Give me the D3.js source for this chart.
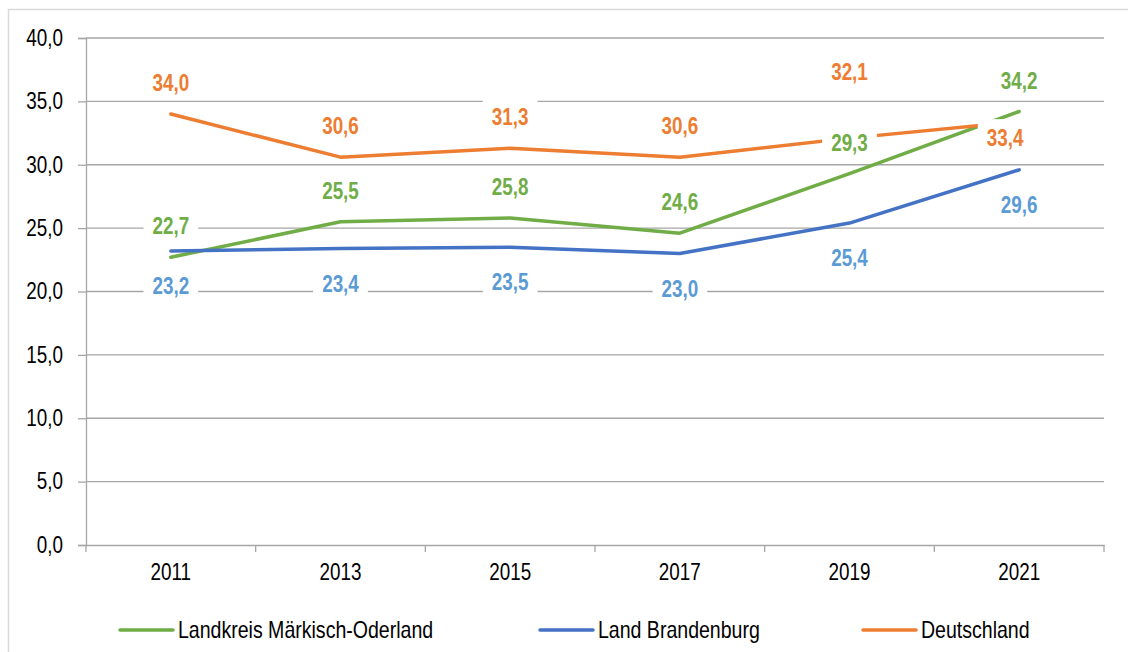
<!DOCTYPE html>
<html>
<head>
<meta charset="utf-8">
<script src="https://cdn.jsdelivr.net/npm/d3@7/dist/d3.min.js"></script>
<style>
  html, body { margin: 0; padding: 0; background: #fff; }
  svg text { font-family: "Liberation Sans", Arial, sans-serif; }
</style>
</head>
<body>
<svg id="chart" width="1128" height="652"></svg>
<script>
// ---- data ----
const years = ["2011", "2013", "2015", "2017", "2019", "2021"];
const seriesNames = ["Landkreis Märkisch-Oderland", "Land Brandenburg", "Deutschland"];
const landkreis = [22.7, 25.5, 25.8, 24.6, 29.3, 34.2];
const brandenburg = [23.2, 23.4, 23.5, 23.0, 25.4, 29.6];
const deutschland = [34.0, 30.6, 31.3, 30.6, 32.1, 33.4];
const yTicks = [0, 5, 10, 15, 20, 25, 30, 35, 40];

// ---- styles ----
const lineColors = ["#70AD47", "#4472C4", "#ED7D31"];
const labelColors = ["#70AD47", "#5B9BD5", "#ED7D31"];
const labelDefaultDy = [-31, 35, -31];      // above / below per series
const labelOverrides = { "2-4": { dx: 0, dy: -66 }, "2-5": { dx: -14, dy: 16 } };
const NARROW = 0.82;

// horizontally condense a text element around its anchor x (emulates Arial Narrow)
function condense(sel, f) {
  sel.each(function () {
    const xv = +(this.getAttribute("x") || 0);
    d3.select(this).attr("transform", `translate(${xv * (1 - f)},0) scale(${f},1)`);
  });
}

const series = [landkreis, brandenburg, deutschland].map((vals, i) => ({
  name: seriesNames[i], idx: i, values: vals.map((v, j) => ({ year: years[j], v, j }))
}));

const svg = d3.select("#chart");
const m = { left: 86, right: 1104, top: 38, bottom: 545 };

const loc = d3.formatLocale({ decimal: ",", thousands: ".", grouping: [3], currency: ["", "€"] });
const fmt = loc.format(".1f");

// outer border
svg.append("rect").attr("x", 8.5).attr("y", 9.5).attr("width", 1130).attr("height", 660)
  .attr("fill", "#fff").attr("stroke", "#d9d9d9").attr("stroke-width", 1.5);

const x = d3.scaleBand().domain(years).range([m.left, m.right]).paddingInner(0).paddingOuter(0);
const y = d3.scaleLinear().domain([0, 40]).range([m.bottom, m.top]);

// gridlines
svg.append("g").selectAll("line").data(yTicks.filter(t => t > 0)).join("line")
  .attr("x1", m.left).attr("x2", m.right)
  .attr("y1", d => y(d)).attr("y2", d => y(d))
  .attr("stroke", "#a6a6a6").attr("stroke-width", 1.3);

// y axis
const yAxis = svg.append("g").attr("transform", `translate(${m.left},0)`)
  .call(d3.axisLeft(y).tickValues(yTicks).tickFormat(fmt).tickSize(8).tickPadding(15));
yAxis.select(".domain").attr("stroke", "#a6a6a6").attr("stroke-width", 1.3);
yAxis.selectAll(".tick line").attr("stroke", "#a6a6a6").attr("stroke-width", 1.3);
yAxis.selectAll(".tick text").attr("font-size", 23).attr("fill", "#000")
  .style("font-family", '"Liberation Sans", Arial, sans-serif').call(condense, NARROW);

// x axis
const xAxis = svg.append("g").attr("transform", `translate(0,${m.bottom})`)
  .call(d3.axisBottom(x).tickSize(0).tickPadding(19));
xAxis.select(".domain").attr("stroke", "#a6a6a6").attr("stroke-width", 1.3);
xAxis.selectAll(".tick text").attr("font-size", 23).attr("fill", "#000")
  .style("font-family", '"Liberation Sans", Arial, sans-serif').call(condense, NARROW);
// boundary ticks
const bounds = years.map(yr => x(yr)).concat([x(years[years.length - 1]) + x.bandwidth()]);
svg.append("g").selectAll("line").data(bounds).join("line")
  .attr("x1", d => d).attr("x2", d => d).attr("y1", m.bottom).attr("y2", m.bottom + 7)
  .attr("stroke", "#a6a6a6").attr("stroke-width", 1.3);

const cx = yr => x(yr) + x.bandwidth() / 2;

// lines
const line = d3.line().x(d => cx(d.year)).y(d => y(d.v));
svg.append("g").selectAll("path").data(series).join("path")
  .attr("d", s => line(s.values))
  .attr("fill", "none").attr("stroke", s => lineColors[s.idx])
  .attr("stroke-width", 3.5).attr("stroke-linecap", "round").attr("stroke-linejoin", "round");

// data labels
const lblG = svg.append("g");
series.forEach(s => {
  s.values.forEach(d => {
    const ov = labelOverrides[`${s.idx}-${d.j}`] || { dx: 0, dy: labelDefaultDy[s.idx] };
    const lx = cx(d.year) + ov.dx, ly = y(d.v) + ov.dy;
    const g = lblG.append("g");
    const t = g.append("text").attr("x", lx).attr("y", ly)
      .attr("text-anchor", "middle").attr("dominant-baseline", "central")
      .attr("font-size", 23).attr("font-weight", "bold").attr("fill", labelColors[s.idx])
      .text(fmt(d.v));
    const w = t.node().getComputedTextLength() * NARROW;
    t.call(condense, NARROW);
    g.insert("rect", "text").attr("x", lx - w / 2 - 9).attr("y", ly - 18.5)
      .attr("width", w + 18).attr("height", 35.5).attr("fill", "#fff");
  });
});

// legend
const legendX = [120, 540, 863];
const leg = svg.append("g").selectAll("g").data(series).join("g")
  .attr("transform", (s, i) => `translate(${legendX[i]},630)`);
leg.append("line").attr("x1", 0).attr("x2", 53).attr("y1", 0).attr("y2", 0)
  .attr("stroke", s => lineColors[s.idx]).attr("stroke-width", 3.5).attr("stroke-linecap", "round");
leg.append("text").attr("x", 58).attr("y", 0).attr("dominant-baseline", "central")
  .attr("font-size", 23).attr("fill", "#000").text(s => s.name).call(condense, 0.85);
</script>
</body>
</html>
